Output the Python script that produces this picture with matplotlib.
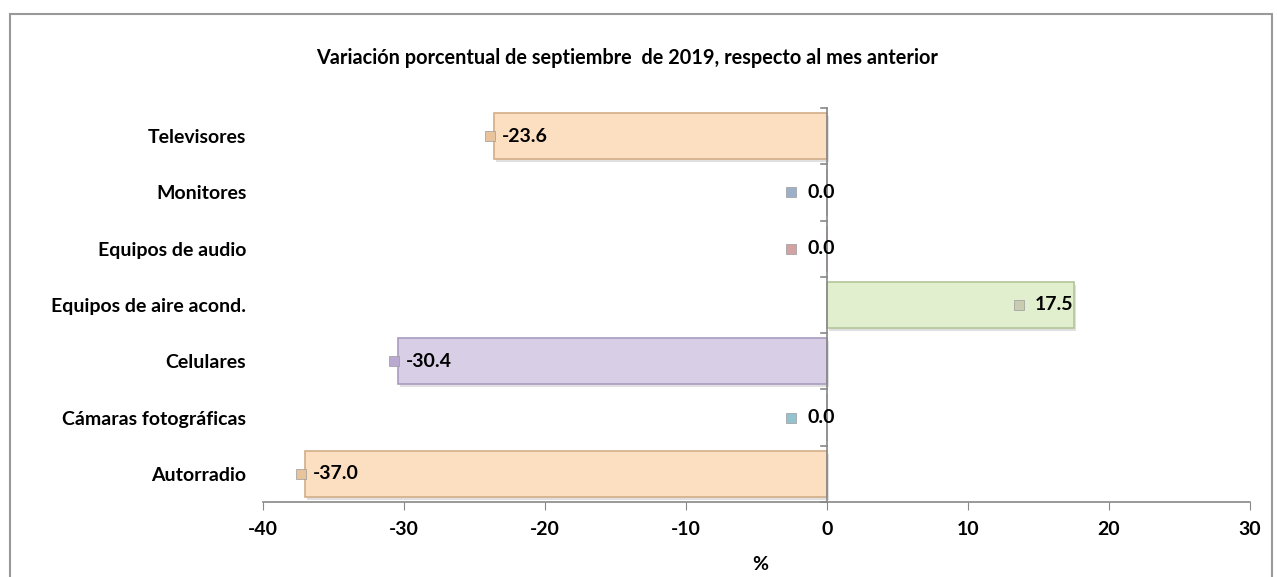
import matplotlib
matplotlib.use("Agg")
import matplotlib.pyplot as plt
from matplotlib.patches import Rectangle
from matplotlib.transforms import offset_copy

plt.rcParams['font.family'] = ['Lato', 'DejaVu Sans']

# Data (bottom to top, as drawn)
categories = ['Autorradio', 'Cámaras fotográficas', 'Celulares',
              'Equipos de aire acond.', 'Equipos de audio', 'Monitores',
              'Televisores']
values = [-37.0, 0.0, -30.4, 17.5, 0.0, 0.0, -23.6]
bar_colors = ['#FCDEC0', '#D4E8EE', '#D8CFE6', '#E2EFCF', '#EFD6D5',
              '#D3DCEA', '#FCDEC0']
key_colors = ['#E8C39C', '#94C3CF', '#B9A8D0', '#C9CCB0', '#D3A2A2',
              '#9CB0C9', '#E8C39C']
edge_colors = ['#D2AD88', '#A9C6CF', '#A99CC0', '#B2C698', '#CFA9A8',
               '#A9B6CC', '#D2AD88']

title = 'Variación porcentual de septiembre  de 2019, respecto al mes anterior'
xticks = [-40, -30, -20, -10, 0, 10, 20, 30]

fig = plt.figure(figsize=(12.77, 5.77), dpi=100)
W, H = 1277, 577
ax = fig.add_axes([263 / W, 1 - 502 / H, (1250 - 263) / W, (502 - 108) / H])

ypos = list(range(len(categories)))

# soft shadow under bars
shadow_tr = offset_copy(ax.transData, fig=fig, x=2, y=-3, units='dots')
ax.barh(ypos, values, height=0.82, color='#bbbbbb', alpha=0.45,
        linewidth=0, zorder=1, transform=shadow_tr)
ax.barh(ypos, values, height=0.82, color=bar_colors,
        edgecolor=edge_colors, linewidth=1.2, zorder=2)

# data labels with legend key
for y, v, kc in zip(ypos, values, key_colors):
    if v < 0:
        key_dx, txt_dx, ha = -4, 8, 'left'
    elif v == 0:
        key_dx, txt_dx, ha = -36, 8, 'right'
    else:
        key_dx, txt_dx, ha = -55, 0, 'right'
    ktr = offset_copy(ax.transData, fig=fig, x=key_dx, y=0, units='dots')
    ax.plot(v, y, marker='s', markersize=7, color=kc, transform=ktr,
            markeredgecolor='#9a9a9a', markeredgewidth=0.5, zorder=4,
            clip_on=False)
    ttr = offset_copy(ax.transData, fig=fig, x=txt_dx, y=0, units='dots')
    ax.text(v, y, f'{v:.1f}', transform=ttr, ha=ha, va='center',
            fontsize=14, fontweight='bold', zorder=5)

ax.set_xlim(-40, 30)
ax.set_ylim(-0.5, len(categories) - 0.5)
ax.set_xticks(xticks)
ax.set_xticklabels([str(t) for t in xticks], fontsize=14, fontweight='bold')
ax.set_yticks(ypos)
ax.set_yticklabels(categories, fontsize=14, fontweight='bold')
ax.tick_params(axis='y', length=0, pad=12)
ax.tick_params(axis='x', direction='out', length=6, color='#888888', pad=8)

for s in ['top', 'right', 'left']:
    ax.spines[s].set_visible(False)
ax.spines['bottom'].set_color('#888888')
ax.spines['bottom'].set_linewidth(1.2)

# vertical axis at zero with category boundary ticks
ax.plot([0, 0], [-0.5, len(categories) - 0.5], color='#888888', lw=1.2,
        zorder=3, clip_on=False)
for b in range(len(categories) + 1):
    ax.plot([-0.4, 0], [b - 0.5, b - 0.5], color='#888888', lw=1.2,
            zorder=3, clip_on=False)

fig.text(627 / W, 1 - 58 / H, title, ha='center', va='center',
         fontsize=14.3, fontweight='bold')
fig.text(760 / W, 1 - 565 / H, '%', ha='center', va='center',
         fontsize=14, fontweight='bold')

# outer chart border
fig.add_artist(Rectangle((10 / W, -0.05), (1272 - 10) / W, 1.05 - 14 / H,
                         transform=fig.transFigure, fill=False,
                         edgecolor='#999999', linewidth=1.5, clip_on=False))

fig.savefig('out.png', dpi=100)
